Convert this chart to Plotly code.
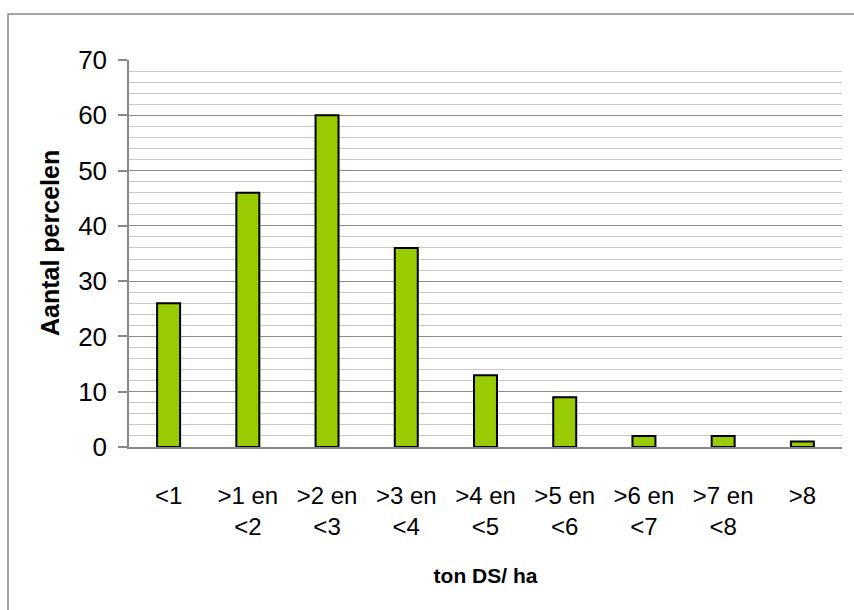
import plotly.graph_objects as go

# Aantal percelen per opbrengstklasse (ton DS/ha)
categories = ["<1", ">1 en<br><2", ">2 en<br><3", ">3 en<br><4", ">4 en<br><5",
              ">5 en<br><6", ">6 en<br><7", ">7 en<br><8", ">8"]
counts = [26, 46, 60, 36, 13, 9, 2, 2, 1]
y_ticks = [0, 10, 20, 30, 40, 50, 60, 70]

W, H = 854, 610
ML, MR, MT, MB = 129, 12, 60, 163
plot_w = W - ML - MR
plot_h = H - MT - MB

FONT = "Liberation Sans, Arial, sans-serif"

fig = go.Figure(
    go.Bar(
        x=categories,
        y=counts,
        width=0.29,
        marker=dict(color="#99CC00", line=dict(color="#000000", width=2)),
    )
)

# Helpers converting pixel positions into paper coordinates
def px_x(p):
    return (p - ML) / plot_w

def px_y(p):
    return (H - MB - p) / plot_h

# Outer chart-area frame
fig.add_shape(
    type="rect", xref="paper", yref="paper",
    x0=px_x(8), x1=px_x(W + 10), y0=px_y(H + 10), y1=px_y(14),
    line=dict(color="#888888", width=1.5), fillcolor="rgba(0,0,0,0)",
    layer="below",
)

# Vertical axis title
fig.add_annotation(
    text="<b>Aantal percelen</b>", textangle=-90,
    xref="paper", yref="paper", x=px_x(50), y=px_y(243),
    xanchor="center", yanchor="middle", showarrow=False,
    font=dict(family=FONT, size=25, color="#000000"),
)

fig.update_layout(
    width=W, height=H,
    margin=dict(l=ML, r=MR, t=MT, b=MB),
    paper_bgcolor="white",
    plot_bgcolor="white",
    showlegend=False,
    bargap=0.71,
    font=dict(family=FONT, size=22, color="#000000"),
    xaxis=dict(
        showline=True, linecolor="#888888", linewidth=1.5,
        ticks="", showgrid=False,
        tickfont=dict(size=24),
        ticklabelstandoff=26,
        title=dict(text="<b>ton DS/ ha</b>", font=dict(size=21), standoff=30),
    ),
    yaxis=dict(
        range=[0, 70],
        tickvals=y_ticks,
        showline=True, linecolor="#888888", linewidth=1.5,
        ticks="outside", ticklen=9, tickcolor="#888888", tickwidth=1.5,
        showgrid=True, gridcolor="#8c8c8c", gridwidth=1,
        minor=dict(dtick=2, showgrid=True, gridcolor="#c8c8c8", gridwidth=1),
        tickfont=dict(size=26),
        ticklabelstandoff=6,
        zeroline=False,
    ),
)

fig.write_html("out.html")
